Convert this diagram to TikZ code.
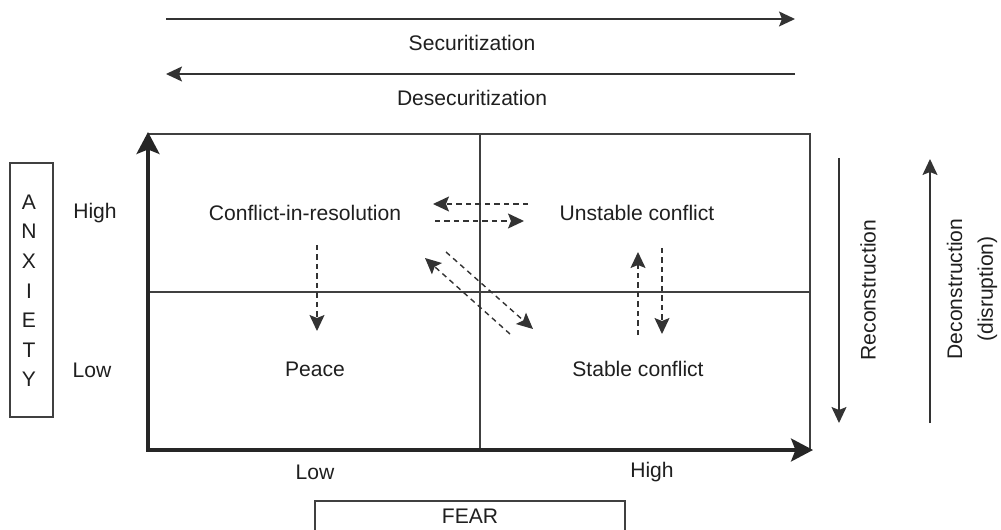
\documentclass[tikz,border=0pt]{standalone}
\usepackage{fontspec}
\setmainfont{Liberation Sans}
\usetikzlibrary{arrows.meta}
\begin{document}
\begin{tikzpicture}[x=0.02cm,y=-0.02cm,
        font=\fontsize{12}{14}\selectfont,
        every node/.style={text=black!88},
        thinline/.style={draw=black!75,line width=0.7pt},
        axis/.style={draw=black!85,line width=1.8pt,
            {Stealth[length=4.4mm,width=4.6mm,inset=0.9mm]}-{Stealth[length=4.4mm,width=4.6mm,inset=0.9mm]}},
        longarrow/.style={draw=black!80,line width=0.8pt,
            -{Stealth[length=3.2mm,width=3mm,inset=0.6mm]}},
        dasharrow/.style={draw=black!80,line width=0.8pt,
            dash pattern=on 3pt off 2.4pt,-{Stealth[length=3.2mm,width=3mm,inset=0.6mm]}}]
    \useasboundingbox (0,0) rectangle (1001,530);
    % securitization / desecuritization
    \coordinate (sec-w) at (166,19);
    \coordinate (sec-e) at (795,19);
    \coordinate (desec-w) at (166,74);
    \coordinate (desec-e) at (795,74);
    \draw[longarrow] (sec-w) -- (sec-e);
    \draw[longarrow] (desec-e) -- (desec-w);
    \node (sec) at (472,43) {Securitization};
    \node (desec) at (472,98) {Desecuritization};
    % frame and quadrants
    \draw[thinline] (148,134) -| (810,450);
    \draw[thinline] (480,134) -- (480,450);
    \draw[thinline] (148,292) -- (810,292);
    \draw[axis] (148,132) |- (813,450);
    \node (peace) at (315,369) {Peace};
    \node (stable) at (638,369) {Stable conflict};
    \node (cir) at (305,213) {Conflict-in-resolution};
    \node (unstable) at (637,213) {Unstable conflict};
    % anxiety axis
    \draw[thinline] (10,163) rectangle (53,417);
    \foreach \l [count=\li] in {A,N,X,I,E,T,Y}{
        \node (anx\li) at (29, 172.5+29.6*\li) {\l};
    }
    \node (ahigh) at (95,213) {High};
    \node (alow) at (92,370) {Low};
    % fear axis
    \node (flow) at (315,472) {Low};
    \node (fhigh) at (652,472) {High};
    \draw[thinline] (315,531) |- (625,501) -- (625,531);
    \node (fear) at (470,516) {FEAR};
    % moves between quadrants
    \coordinate (h1a) at (528,204); \coordinate (h1b) at (433,204);
    \coordinate (h2a) at (435,221); \coordinate (h2b) at (524,221);
    \coordinate (d1a) at (510,334); \coordinate (d1b) at (425,258);
    \coordinate (d2a) at (446,252); \coordinate (d2b) at (533,329);
    \coordinate (v1a) at (638,335); \coordinate (v1b) at (638,252);
    \coordinate (v2a) at (662,248); \coordinate (v2b) at (662,334);
    \coordinate (p1a) at (317,245); \coordinate (p1b) at (317,331);
    \foreach \m in {h1,h2,d1,d2,v1,v2,p1}{
        \draw[dasharrow] (\m a) -- (\m b);
    }
    % reconstruction / deconstruction
    \coordinate (rec-n) at (839,158);
    \coordinate (rec-s) at (839,423);
    \coordinate (dec-n) at (930,159);
    \coordinate (dec-s) at (930,423);
    \draw[longarrow] (rec-n) -- (rec-s);
    \draw[longarrow] (dec-s) -- (dec-n);
    \node[rotate=90] (rec) at (868,290) {Reconstruction};
    \node[rotate=90,align=center,font=\fontsize{12}{17.5}\selectfont] (dec) at (972,289) {Deconstruction\\(disruption)};
\end{tikzpicture}
\end{document}
